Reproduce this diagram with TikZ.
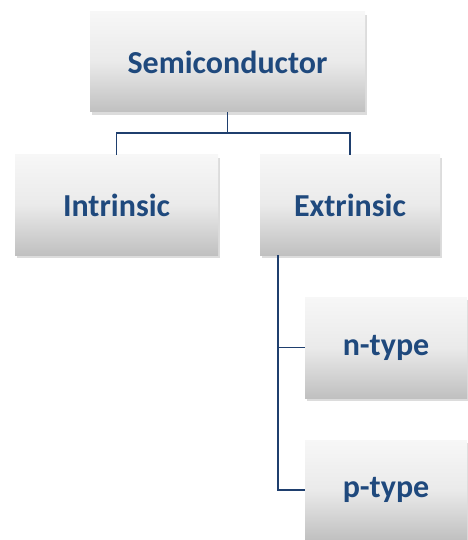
\documentclass[tikz,border=0pt]{standalone}
\usepackage{fontspec}
\setmainfont{Carlito}
\usetikzlibrary{shadows}
\definecolor{txtblue}{HTML}{1F497D}
\definecolor{lineblue}{HTML}{1F3F6E}
\definecolor{boxtop}{HTML}{F7F7F7}
\definecolor{boxmid}{HTML}{EAEAEA}
\definecolor{boxbot}{HTML}{C0C0C0}
\tikzset{
  boxnode/.style={rectangle, draw=none, top color=boxtop, bottom color=boxbot, middle color=boxmid,
    font=\fontsize{32}{36}\selectfont\bfseries, text=txtblue, inner sep=0pt,
    drop shadow={opacity=0.28, shadow xshift=1.5pt, shadow yshift=-3pt}},
  conn/.style={draw=lineblue, line width=1.8pt}
}
\begin{document}
\begin{tikzpicture}[x=1pt,y=-1pt]
\useasboundingbox (0,0) rectangle (467,540);
\node[boxnode, minimum width=275pt, minimum height=100pt] (sem) at (227.5,62) {Semiconductor};
\node[boxnode, minimum width=203pt, minimum height=100pt] (intr) at (116.5,205) {Intrinsic};
\node[boxnode, minimum width=180pt, minimum height=100pt] (extr) at (350,205) {Extrinsic};
\node[boxnode, minimum width=162pt, minimum height=101pt] (ntype) at (386,347.5) {n-type};
\node[boxnode, minimum width=162pt, minimum height=100pt] (ptype) at (386,490) {p-type};
\coordinate (bus) at (227.5,133);
\coordinate (stem) at (278,255);
\draw[conn] (sem.south) -- (bus);
\draw[conn] (bus) -| (intr.north);
\draw[conn] (bus) -| (extr.north);
\draw[conn] (stem) |- (ntype.west);
\draw[conn] (stem) |- (ptype.west);
\end{tikzpicture}
\end{document}
